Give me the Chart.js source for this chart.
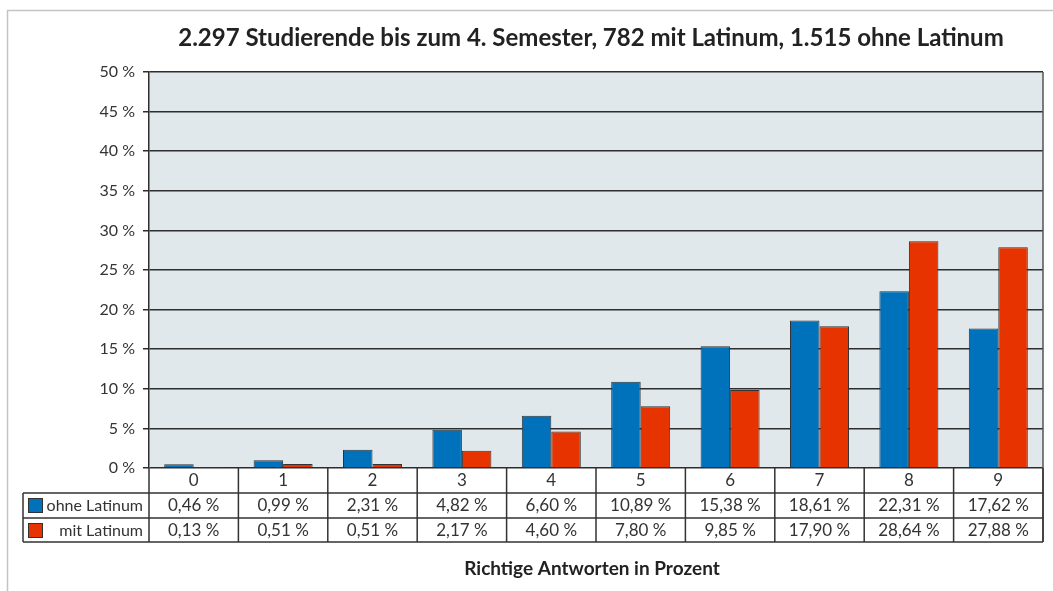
<!DOCTYPE html>
<html>
<head>
<meta charset="utf-8">
<script src="https://cdn.jsdelivr.net/npm/chart.js@4/dist/chart.umd.min.js"></script>
<style>
  body { margin: 0; background: #fff; }
  #wrap { width: 1053px; height: 591px; }
</style>
</head>
<body>
<div id="wrap"><canvas id="myChart" width="1053" height="591"></canvas></div>
<script>
const titleText = '2.297 Studierende bis zum 4. Semester, 782 mit Latinum, 1.515 ohne Latinum';
const xTitle = 'Richtige Antworten in Prozent';
const categories = ['0', '1', '2', '3', '4', '5', '6', '7', '8', '9'];
const seriesNames = ['ohne Latinum', 'mit Latinum'];
const ohneLatinum = [0.46, 0.99, 2.31, 4.82, 6.60, 10.89, 15.38, 18.61, 22.31, 17.62];
const mitLatinum = [0.13, 0.51, 0.51, 2.17, 4.60, 7.80, 9.85, 17.90, 28.64, 27.88];
const yMax = 50;
const yStep = 5;

const blue = '#0072bb';
const red = '#e63300';
const ink = '#333333';

function pct(v) {
  return v.toFixed(2).replace('.', ',') + ' %';
}

// background, frame, title, data table
const tablePlugin = {
  id: 'tablePlugin',
  beforeDraw(chart) {
    const ctx = chart.ctx;
    const a = chart.chartArea;
    ctx.save();
    ctx.strokeStyle = '#c4c4c4';
    ctx.lineWidth = 1.5;
    ctx.beginPath();
    ctx.moveTo(7.5, 591);
    ctx.lineTo(7.5, 10.5);
    ctx.lineTo(1053, 10.5);
    ctx.stroke();
    ctx.fillStyle = '#e1e8ec';
    ctx.fillRect(a.left, a.top, a.right - a.left, a.bottom - a.top);
    ctx.restore();
  },
  afterDraw(chart) {
    const ctx = chart.ctx;
    const a = chart.chartArea;
    const x = chart.scales.x;
    const colW = (a.right - a.left) / categories.length;
    const rowTop = a.bottom;
    const r1 = rowTop + 25, r2 = r1 + 25, r3 = r2 + 24;
    const legLeft = 23;
    ctx.save();

    // title
    ctx.fillStyle = '#222';
    ctx.font = 'bold 24px Lato';
    ctx.textAlign = 'center';
    ctx.textBaseline = 'alphabetic';
    ctx.fillText(titleText, 591, 46);

    // right plot border
    ctx.strokeStyle = '#555';
    ctx.lineWidth = 1.5;
    ctx.beginPath();
    ctx.moveTo(a.right, a.top);
    ctx.lineTo(a.right, r3);
    ctx.stroke();

    // table lines
    ctx.strokeStyle = ink;
    ctx.lineWidth = 1.5;
    ctx.beginPath();
    for (let i = 0; i <= categories.length; i++) {
      const px = i < categories.length ? x.getPixelForValue(i) - colW / 2 : a.right;
      ctx.moveTo(px, rowTop);
      ctx.lineTo(px, r3);
    }
    ctx.moveTo(legLeft, r1); ctx.lineTo(a.right, r1);
    ctx.moveTo(legLeft, r2); ctx.lineTo(a.right, r2);
    ctx.moveTo(legLeft, r3); ctx.lineTo(a.right, r3);
    ctx.moveTo(legLeft, r1); ctx.lineTo(legLeft, r3);
    ctx.stroke();

    // header row: category labels
    ctx.font = '17px Lato';
    ctx.textBaseline = 'middle';
    ctx.textAlign = 'center';
    ctx.fillStyle = ink;
    categories.forEach(function(c, i) {
      ctx.fillText(c, x.getPixelForValue(i), rowTop + 13);
    });

    // legend column + values
    const rows = [[ohneLatinum, blue, r1], [mitLatinum, red, r2]];
    rows.forEach(function(row, k) {
      const mid = row[2] + 12.5;
      ctx.fillStyle = row[1];
      ctx.fillRect(28, mid - 7.5, 15, 15);
      ctx.strokeStyle = ink;
      ctx.lineWidth = 1;
      ctx.strokeRect(28.5, mid - 7, 14, 14);
      ctx.fillStyle = ink;
      ctx.textAlign = 'right';
      ctx.font = '16px Lato';
      ctx.fillText(seriesNames[k], 143, mid);
      ctx.textAlign = 'center';
      ctx.font = '17px Lato';
      row[0].forEach(function(v, i) {
        ctx.fillText(pct(v), x.getPixelForValue(i), mid);
      });
    });

    // axis title
    ctx.fillStyle = '#222';
    ctx.font = 'bold 19px Lato';
    ctx.textAlign = 'center';
    ctx.textBaseline = 'alphabetic';
    ctx.fillText(xTitle, 592, 575);
    ctx.restore();
  }
};

new Chart('myChart', {
  type: 'bar',
  data: {
    labels: categories,
    datasets: [{
      label: seriesNames[0],
      data: ohneLatinum,
      backgroundColor: blue,
      borderColor: ink,
      borderWidth: 1
    }, {
      label: seriesNames[1],
      data: mitLatinum,
      backgroundColor: red,
      borderColor: ink,
      borderWidth: 1
    }]
  },
  options: {
    responsive: false,
    animation: false,
    layout: { padding: { top: 72, right: 10, bottom: 98, left: 0 } },
    categoryPercentage: 0.66,
    barPercentage: 1.0,
    plugins: {
      legend: { display: false },
      title: { display: false },
      tooltip: { enabled: false }
    },
    scales: {
      x: {
        grid: { display: false },
        border: { display: false },
        ticks: { display: false },
        afterFit(axis) { axis.height = 25; }
      },
      y: {
        min: 0,
        max: yMax,
        ticks: {
          stepSize: yStep,
          color: ink,
          padding: 8,
          font: { family: 'Lato', size: 16 },
          callback: function(v) { return v + ' %'; }
        },
        grid: { color: '#2d2d2d', lineWidth: 1.5, tickLength: 6, tickColor: '#2d2d2d' },
        border: { color: '#2d2d2d', width: 1.5 },
        afterFit(axis) { axis.width = 149; }
      }
    }
  },
  plugins: [tablePlugin]
});
</script>
</body>
</html>
